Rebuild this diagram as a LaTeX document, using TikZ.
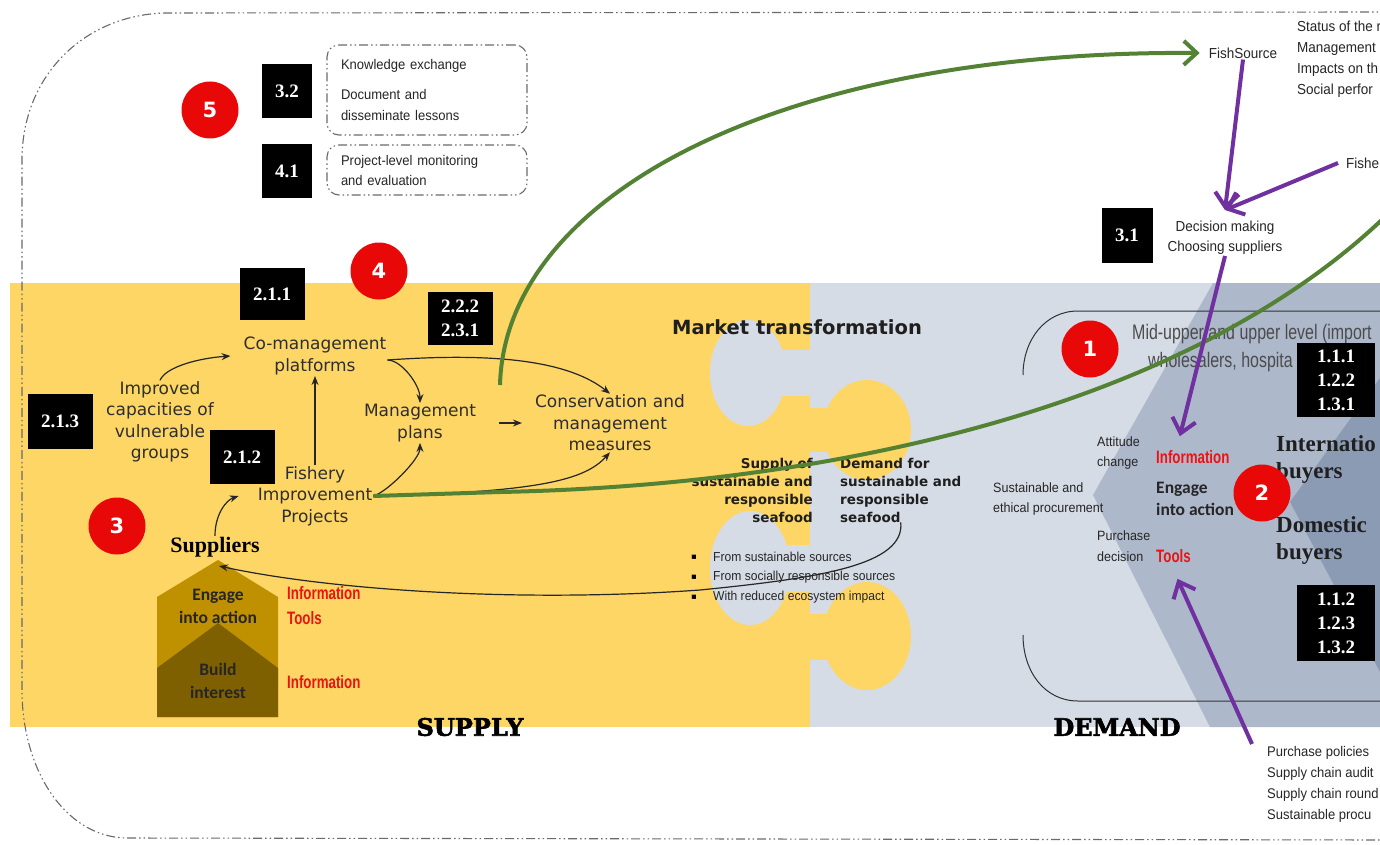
\documentclass[tikz,border=0pt]{standalone}
\usepackage{fontspec}
\setmainfont{Liberation Sans}
\newfontfamily\verd{DejaVu Sans}
\newfontfamily\tnr{Liberation Serif}
\newfontfamily\heavy[FakeBold=2.2]{DejaVu Serif}
\newfontfamily\narrowf[FakeStretch=0.76]{Liberation Sans}
\newfontfamily\redf[FakeStretch=0.74]{Liberation Sans}
\newfontfamily\arialn[FakeStretch=0.93]{Liberation Sans}
\newfontfamily\calib{Carlito}
\usetikzlibrary{arrows.meta}
\newcommand{\fsz}[2]{\fontsize{#1}{#2}\selectfont}
\definecolor{supy}{RGB}{253,214,102}
\definecolor{demg}{RGB}{214,220,229}
\definecolor{demm}{RGB}{173,184,203}
\definecolor{demd}{RGB}{140,155,180}
\definecolor{gold}{RGB}{191,144,0}
\definecolor{brownd}{RGB}{127,96,0}
\definecolor{grn}{RGB}{84,130,53}
\definecolor{pur}{RGB}{112,48,160}
\definecolor{redc}{RGB}{232,8,8}
\definecolor{redt}{RGB}{235,20,20}
\definecolor{dashg}{RGB}{105,105,115}
\tikzset{
  txt/.style={font=\verd\fsz{17}{21.5}, align=center, text=black!82, inner sep=1pt},
  nbox/.style={fill=black, text=white, font=\tnr\bfseries\fsz{19}{24}, align=center, inner sep=0pt},
  num/.style={circle, fill=redc, text=white, font=\verd\bfseries\fsz{21}{21}, minimum size=57pt, inner sep=0pt},
  smalltxt/.style={font=\arialn\fsz{13.5}{20.5}, text=black!85, align=left, inner sep=0pt},
  redlab/.style={font=\redf\bfseries\fsz{18}{24}, text=redt, inner sep=0pt},
  blk/.style={-{Stealth[length=9pt,width=7pt]}, line width=1.2pt, black!85},
  grnar/.style={line width=4pt, grn, -{Straight Barb[length=13pt,width=24pt]}},
  purar/.style={line width=4pt, pur, -{Straight Barb[length=14pt,width=24pt]}},
  bound/.style={dashg, line width=1.1pt, dash pattern=on 9pt off 3pt on 1.5pt off 3pt on 1.5pt off 3pt},
  dbox/.style={bound, draw, rounded corners=12pt},
}
\begin{document}
\begin{tikzpicture}[x=1pt,y=-1pt]
\useasboundingbox (0,0) rectangle (1380,845);
\begin{scope}
\clip (0,0) rectangle (1380,845);
\fill[white] (0,0) rectangle (1380,845);
% panels
\fill[supy] (10,283) rectangle (810,727);
\fill[demg] (810,283) rectangle (1380,727);
\fill[demm] (1213,283) -- (1093,495) -- (1210,727) -- (1380,727) -- (1380,283) -- cycle;
\fill[demd] (1380,378) -- (1290,502) -- (1380,672) -- cycle;
% puzzle knobs
\fill[demg] (748,373) ellipse [x radius=38, y radius=53];
\fill[demg] (775,350) rectangle (811,396);
\fill[supy] (867,430) ellipse [x radius=44, y radius=50];
\fill[supy] (809,408) rectangle (835,452);
\fill[demg] (750,568) ellipse [x radius=40, y radius=57];
\fill[demg] (775,545) rectangle (811,592);
\fill[supy] (867,636) ellipse [x radius=44, y radius=54];
\fill[supy] (809,614) rectangle (835,660);
% demand bracket
\draw[line width=1pt, black!80] (1390,311) -- (1078,311) .. controls (1045,311) and (1023,340) .. (1023,375);
\draw[line width=1pt, black!80] (1023,635) .. controls (1023,672) and (1045,701) .. (1078,701) -- (1390,701);
% outer boundary
\draw[bound] (1390,12) -- (165,13) .. controls (85,15) and (22,75) .. (22,160) -- (22,690) .. controls (22,770) and (65,836) .. (125,838) -- (1390,840);

% top-left group
\node[num] (c5) at (210,110) {5};
\node[nbox, minimum width=50, minimum height=54] (b32) at (287,91) {3.2};
\node[nbox, minimum width=50, minimum height=53] (b41) at (287,171) {4.1};
\node[dbox, font=\arialn\fsz{14}{21}, text=black!85, align=left, text width=172, inner xsep=14, minimum height=90] (kbox) at (427,90) {Knowledge exchange\\[9pt]Document and\\disseminate lessons};
\node[dbox, font=\arialn\fsz{14}{20}, text=black!85, align=left, text width=172, inner xsep=14, minimum height=50] (mbox) at (427,170) {Project-level monitoring\\and evaluation};

% supply side
\node[txt] (comgmt) at (315,356) {Co-management\\platforms};
\node[txt] (impr) at (160,422) {Improved\\capacities of\\vulnerable\\groups};
\node[txt] (fip) at (315,496) {Fishery\\Improvement\\Projects};
\node[txt] (mplans) at (420,423) {Management\\plans};
\node[txt] (cmm) at (610,423) {Conservation and\\management\\measures};
\node[nbox, minimum width=65, minimum height=52] (b211) at (272,294) {2.1.1};
\node[num] (c4) at (379,271) {4};
\node[nbox, minimum width=65, minimum height=53] (b222) at (460,318) {2.2.2\\2.3.1};
\node[nbox, minimum width=65, minimum height=55] (b213) at (60,421) {2.1.3};
\node[nbox, minimum width=65, minimum height=54] (b212) at (242,457) {2.1.2};
\node[num] (c3) at (117,526) {3};
\node[font=\tnr\bfseries\fsz{22}{22}, inner sep=1pt] (supp) at (215,547) {Suppliers};

% pyramid
\fill[gold] (157,717) -- (157,597) -- (218,560) -- (278,597) -- (278,717) -- cycle;
\fill[brownd] (157,717) -- (157,668) -- (218,623) -- (278,668) -- (278,717) -- cycle;
\coordinate (apex) at (219,566);
\node[font=\calib\bfseries\fsz{17.5}{23}, text=black!85, align=center] (peng) at (218,606) {Engage\\into action};
\node[font=\calib\bfseries\fsz{17.5}{23}, text=black!85, align=center] (pbui) at (218,681) {Build\\interest};
\node[redlab, anchor=west] (pinfo1) at (287,593) {Information};
\node[redlab, anchor=west] (ptools) at (287,618) {Tools};
\node[redlab, anchor=west] (pinfo2) at (287,682) {Information};

% market transformation
\node[font=\verd\bfseries\fsz{19.5}{22}, text=black!88] (mt) at (797,327) {Market transformation};
\node[font=\verd\bfseries\fsz{13.5}{18}, text=black!88, align=right, anchor=east, inner sep=0pt] (supsea) at (813,490) {Supply of\\sustainable and\\responsible\\seafood};
\node[font=\verd\bfseries\fsz{13.5}{18}, text=black!88, align=left, anchor=west, inner sep=0pt] (demsea) at (840,490) {Demand for\\sustainable and\\responsible\\seafood};
\node[smalltxt, font=\arialn\fsz{13}{20}, anchor=west] (bl1) at (713,557) {From sustainable sources};
\node[smalltxt, font=\arialn\fsz{13}{20}, anchor=west] (bl2) at (713,577) {From socially responsible sources};
\node[smalltxt, font=\arialn\fsz{13}{20}, anchor=west] (bl3) at (713,597) {With reduced ecosystem impact};
\node[font=\verd\fsz{8.5}{8.5}, inner sep=0pt] (d1) at (694,557) {▪};
\node[font=\verd\fsz{8.5}{8.5}, inner sep=0pt] (d2) at (694,577) {▪};
\node[font=\verd\fsz{8.5}{8.5}, inner sep=0pt] (d3) at (694,597) {▪};

\node[font=\heavy\bfseries\fsz{24}{24}] (supply) at (470,727) {SUPPLY};
\node[font=\heavy\bfseries\fsz{24}{24}] (demand) at (1117,727) {DEMAND};

% demand side
\node[num] (c1) at (1090,349) {1};
\node[font=\narrowf\fsz{21}{27}, text=black!70, anchor=west, inner sep=0pt] (mid1) at (1132,334) {Mid-upper and upper level (import};
\node[font=\narrowf\fsz{21}{27}, text=black!70, anchor=west, inner sep=0pt] (mid2) at (1148,362) {wholesalers, hospita};
\node[nbox, minimum width=78, minimum height=74] (b111) at (1336,380) {1.1.1\\1.2.2\\1.3.1};
\node[font=\tnr\bfseries\fsz{23}{27}, text=black!88, align=left, anchor=west, inner sep=0pt] (intl) at (1276,459) {Internatio\\buyers};
\node[font=\tnr\bfseries\fsz{23}{27}, text=black!88, align=left, anchor=west, inner sep=0pt] (dom) at (1276,540) {Domestic\\buyers};
\node[num] (c2) at (1262,493) {2};
\node[nbox, minimum width=78, minimum height=76] (b112) at (1336,623) {1.1.2\\1.2.3\\1.3.2};
\node[smalltxt, anchor=west] (att) at (1097,453) {Attitude\\change};
\node[redlab, anchor=west] (info) at (1156,457) {Information};
\node[smalltxt, anchor=west] (sep) at (993,499) {Sustainable and\\ethical procurement};
\node[font=\calib\bfseries\fsz{17.5}{22.5}, text=black!85, align=left, anchor=west, inner sep=0pt] (eng) at (1156,499) {Engage\\into action};
\node[smalltxt, anchor=west] (pd) at (1097,546) {Purchase\\decision};
\node[redlab, anchor=west] (tools) at (1156,556) {Tools};

% top right
\node[font=\arialn\fsz{14.5}{20}, text=black!85, inner sep=1pt] (fs) at (1243,53) {FishSource};
\node[font=\arialn\fsz{14.5}{21}, text=black!85, align=left, anchor=west, inner sep=0pt] (status) at (1297,59) {Status of the r\\Management\\Impacts on th\\Social perfor};
\node[font=\arialn\fsz{14.5}{20}, text=black!85, anchor=west, inner sep=0pt] (fishe) at (1346,163) {Fishe};
\node[nbox, minimum width=51, minimum height=55] (b31) at (1127,235) {3.1};
\node[font=\arialn\fsz{14.5}{20}, text=black!85, align=center, inner sep=1pt] (dec) at (1225,238) {Decision making\\Choosing suppliers};
\node[font=\arialn\fsz{14}{21}, text=black!85, align=left, anchor=north west, inner sep=0pt] (pol) at (1267,746) {Purchase policies\\Supply chain audit\\Supply chain round\\Sustainable procu};

% thin black arrows
\draw[blk] (impr.north) .. controls +(6,-14) and +(-30,2) .. ([xshift=-12pt]comgmt.west);
\draw[blk] (fip.north) -- (comgmt.south);
\draw[blk] ([yshift=-4pt]comgmt.east) .. controls +(14,0) and +(0,-18) .. (mplans.north);
\draw[blk] ([yshift=-4pt]comgmt.east) .. controls (500,352) and (570,362) .. (cmm.north);
\draw[blk] (fip.east) .. controls +(14,-4) and +(0,16) .. (mplans.south);
\draw[blk, shorten <=22pt, shorten >=12pt] (mplans.east) -- (cmm.west);
\draw[blk] (fip.east) .. controls (540,492) and (585,480) .. (cmm.south);
\draw[blk] (supp.north) .. controls +(0,-22) and +(-12,4) .. ([xshift=-18pt]fip.west);
\draw[blk] (demsea.south) .. controls (905,565) and (820,578) .. (700,590) .. controls (520,603) and (330,590) .. (apex);

% green arrows
\coordinate (g1) at (500,385);
\coordinate (gout) at (1392,210);
\draw[grnar] (g1) .. controls (505,195) and (780,50) .. ([xshift=-8pt]fs.west);
\draw[grn, line width=4pt] (fip.east) -- (500,492) .. controls (850,485) and (1200,400) .. (gout);

% purple arrows
\draw[purar] (fs.south) -- ([yshift=10pt]dec.north);
\draw[purar] ([xshift=-8pt]fishe.west) -- ([yshift=10pt]dec.north);
\draw[purar] (dec.south) -- ([xshift=-13pt,yshift=14pt]info.north);
\draw[purar] ([xshift=-15pt,yshift=2pt]pol.north west) -- ([xshift=4pt,yshift=-16pt]tools.south);
\end{scope}
\end{tikzpicture}
\end{document}
